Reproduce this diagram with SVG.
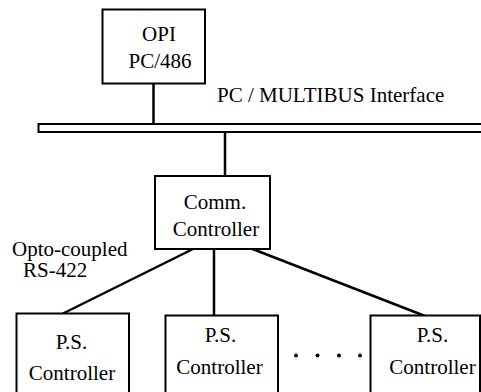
<svg xmlns="http://www.w3.org/2000/svg" width="481" height="392" viewBox="0 0 481 392">
  <style>
    .box { fill: #ffffff; stroke: #000000; stroke-width: 2; }
    .wire { stroke: #000000; stroke-width: 2.5; fill: none; }
    .lbl { font-family: "Liberation Serif", "Times New Roman", serif; font-size: 21px; fill: #000000; }
    .mid { text-anchor: middle; }
  </style>
  <rect width="481" height="392" fill="#ffffff"/>

  <!-- connectors -->
  <g id="connectors">
    <line class="wire" x1="153.5" y1="83" x2="153.5" y2="124"/>
    <line class="wire" x1="225" y1="132" x2="225" y2="176"/>
    <line class="wire" x1="195" y1="248" x2="63" y2="313.5"/>
    <line class="wire" x1="214" y1="249" x2="214" y2="315.5"/>
    <line class="wire" x1="250" y1="248" x2="425" y2="316"/>
  </g>

  <!-- PC / MULTIBUS bus bar, open to the right -->
  <g id="bus">
    <path d="M482 124 H38.5 V132 H482" fill="#ffffff" stroke="#000000" stroke-width="2"/>
    <text class="lbl" x="217" y="102">PC / MULTIBUS Interface</text>
  </g>

  <g id="opi">
    <rect class="box" x="102.5" y="9.5" width="102.5" height="74"/>
    <text class="lbl mid" x="159" y="41">OPI</text>
    <text class="lbl mid" x="160" y="68">PC/486</text>
  </g>

  <g id="comm">
    <rect class="box" x="155" y="176" width="115" height="73"/>
    <text class="lbl mid" x="215" y="209">Comm.</text>
    <text class="lbl mid" x="216" y="236">Controller</text>
  </g>

  <g id="link-label">
    <text class="lbl" x="12" y="256">Opto-coupled</text>
    <text class="lbl" x="23" y="277">RS-422</text>
  </g>

  <g id="ps1">
    <rect class="box" x="16.5" y="313.5" width="112.5" height="90"/>
    <text class="lbl mid" x="71.5" y="349">P.S.</text>
    <text class="lbl mid" x="72" y="380">Controller</text>
  </g>

  <g id="ps2">
    <rect class="box" x="165.5" y="315.5" width="112.5" height="90"/>
    <text class="lbl mid" x="220.5" y="342">P.S.</text>
    <text class="lbl mid" x="219.5" y="374">Controller</text>
  </g>

  <g id="ps3">
    <rect class="box" x="370.5" y="315.5" width="109.5" height="90"/>
    <text class="lbl mid" x="432.5" y="342">P.S.</text>
    <text class="lbl mid" x="432.5" y="374">Controller</text>
  </g>

  <g id="ellipsis" fill="#000000">
    <circle cx="296" cy="355.5" r="2"/>
    <circle cx="317.5" cy="355.5" r="2"/>
    <circle cx="339" cy="355.5" r="2"/>
    <circle cx="360" cy="355.5" r="2"/>
  </g>
</svg>
